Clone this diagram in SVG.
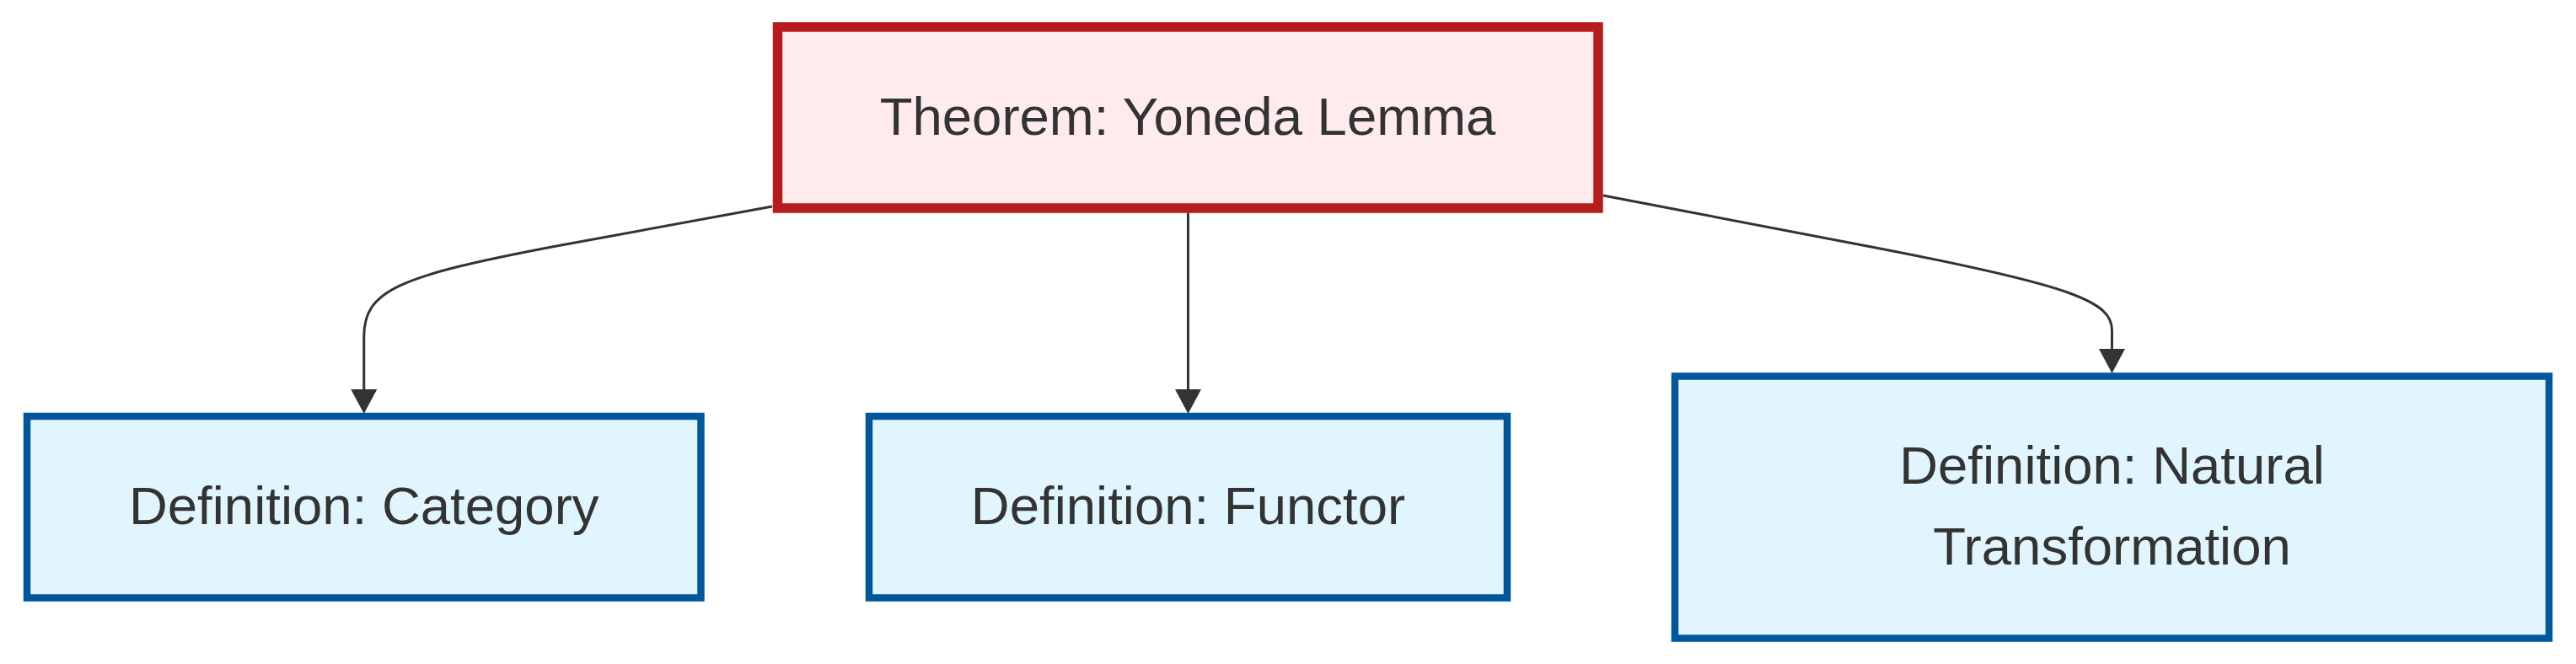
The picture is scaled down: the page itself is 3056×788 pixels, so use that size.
<svg xmlns="http://www.w3.org/2000/svg" width="3056" height="788" viewBox="0 0 3056 788">
<style>
  .lbl { font-family: "Liberation Sans", Arial, sans-serif; font-size: 63.5px; fill: #333333; text-anchor: middle; dominant-baseline: central; }
  .thm { fill: #ffebee; stroke: #b71c1c; stroke-width: 11.5; }
  .def { fill: #e1f5fe; stroke: #01579b; stroke-width: 8.5; }
  .edge { fill: none; stroke: #333333; stroke-width: 3; }
</style>
<defs>
  <marker id="arrow" viewBox="0 0 10 10" refX="0" refY="5" markerWidth="29" markerHeight="31" markerUnits="userSpaceOnUse" orient="auto" preserveAspectRatio="none">
    <path d="M0,0 L10,5 L0,10 z" fill="#333333"/>
  </marker>
</defs>
<rect width="3056" height="788" fill="#ffffff"/>
<g id="connectors">
  <path class="edge" d="M 916,245 L 660,292 C 470,328 431.75,345 431.75,400 L 431.75,462" marker-end="url(#arrow)"/>
  <path class="edge" d="M 1409.5,253 L 1409.5,462" marker-end="url(#arrow)"/>
  <path class="edge" d="M 1902,232 L 2220,293 C 2460,339 2505.5,358 2505.5,392 L 2505.5,414" marker-end="url(#arrow)"/>
</g>
<g id="node-yoneda">
  <rect class="thm" x="922.5" y="32" width="973.5" height="215"/>
  <text class="lbl" x="1409" y="137.5">Theorem: Yoneda Lemma</text>
</g>
<g id="node-category">
  <rect class="def" x="32" y="494" width="799.5" height="215.5"/>
  <text class="lbl" x="431.75" y="599.5">Definition: Category</text>
</g>
<g id="node-functor">
  <rect class="def" x="1031" y="494" width="757" height="215.5"/>
  <text class="lbl" x="1409.5" y="599.5">Definition: Functor</text>
</g>
<g id="node-natural">
  <rect class="def" x="1987" y="446.5" width="1037" height="311"/>
  <text class="lbl" x="2505.5" y="552.3">Definition: Natural</text>
  <text class="lbl" x="2505.5" y="647.5">Transformation</text>
</g>
</svg>
